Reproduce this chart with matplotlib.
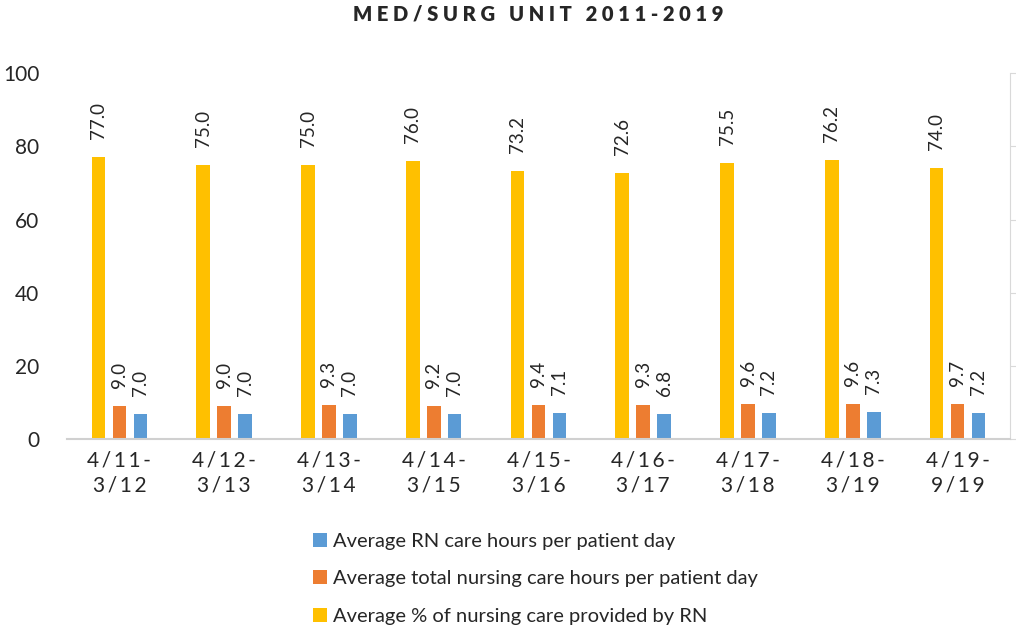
import matplotlib.pyplot as plt
import numpy as np

periods = ["4/11-\n3/12", "4/12-\n3/13", "4/13-\n3/14", "4/14-\n3/15", "4/15-\n3/16",
           "4/16-\n3/17", "4/17-\n3/18", "4/18-\n3/19", "4/19-\n9/19"]
pct_rn = [77.0, 75.0, 75.0, 76.0, 73.2, 72.6, 75.5, 76.2, 74.0]
total_hours = [9.0, 9.0, 9.3, 9.2, 9.4, 9.3, 9.6, 9.6, 9.7]
rn_hours = [7.0, 7.0, 7.0, 7.0, 7.1, 6.8, 7.2, 7.3, 7.2]

plt.rcParams['font.family'] = ['Lato', 'DejaVu Sans']

fig = plt.figure(figsize=(10.16, 6.31), dpi=100)
ax = fig.add_axes([0.066, 0.304, 0.928, 0.58])

x = np.arange(len(periods))
w = 0.13
gap = 0.2
series = [
    (rn_hours, x + gap, '#5b9bd5', 'Average RN care hours per patient day'),
    (total_hours, x, '#ed7d31', 'Average total nursing care hours per patient day'),
    (pct_rn, x - gap, '#ffc000', 'Average % of nursing care provided by RN'),
]
for vals, pos, col, lab in series:
    bars = ax.bar(pos, vals, w, color=col, label=lab)
    for b, v in zip(bars, vals):
        ax.annotate(f"{v:.1f}", (b.get_x() + b.get_width() / 2, v),
                    xytext=(0, 18), textcoords='offset pixels',
                    rotation=90, ha='center', va='bottom', fontsize=13.5, color='#262626')

ax.set_xlim(-0.5, len(periods) - 0.5)
ax.set_ylim(0, 100)
ax.set_yticks([0, 20, 40, 60, 80, 100])
ax.set_xticks(x)
spaced = ['\u2009'.join(p).replace('\u2009\n\u2009', '\n') for p in periods]
ax.set_xticklabels(spaced, fontsize=15, color='#262626', linespacing=1.3)

for s in ['left', 'top']:
    ax.spines[s].set_visible(False)
ax.spines['bottom'].set_color('#d0d0d0')
ax.spines['bottom'].set_linewidth(1.5)
ax.spines['right'].set_color('#d9d9d9')
ax.tick_params(axis='x', length=0, pad=8)
ax.tick_params(axis='y', left=False, right=True, labelleft=True, labelright=False,
               length=5, color='#d9d9d9', labelsize=15, labelcolor='#262626', pad=15)

ax.set_title("M E D / S U R G   U N I T   2 0 1 1 - 2 0 1 9", fontsize=14.5, fontweight='heavy',
             color='#262626', pad=38)

handles, labels = ax.get_legend_handles_labels()
fig.legend(handles, labels, loc='upper left', bbox_to_anchor=(0.3, 0.168), frameon=False,
           fontsize=14.5, labelcolor='#262626', handlelength=0.7, handleheight=0.7,
           handletextpad=0.3, labelspacing=1.0, borderaxespad=0)

fig.savefig('out.png', dpi=100)
